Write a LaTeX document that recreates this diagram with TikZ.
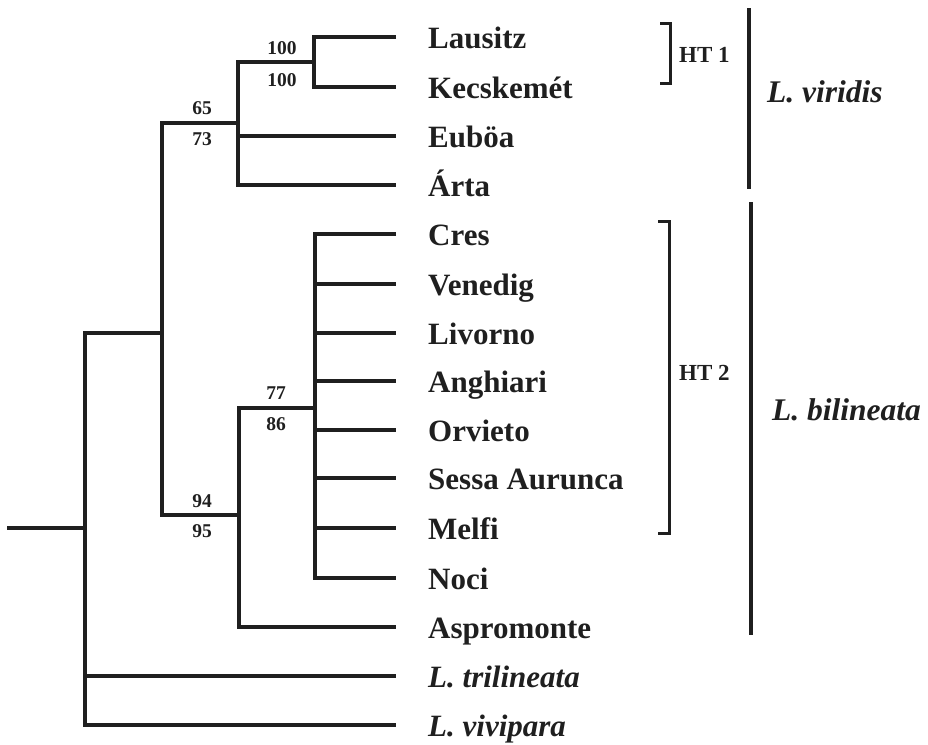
\documentclass[tikz,border=0pt]{standalone}
\usepackage{fontspec}
\setmainfont{Liberation Serif}
\begin{document}
\begin{tikzpicture}[x=1pt,y=-1pt,
  branch/.style={line width=3.2pt, line join=miter, black!88},
  bar/.style={line width=4.6pt, black!88},
  brk/.style={line width=3pt, line join=miter, black!88},
  taxon/.style={anchor=base west, inner sep=0pt, font=\fontsize{31}{36}\selectfont\bfseries, text=black!88},
  taxonit/.style={taxon, font=\fontsize{31}{36}\selectfont\bfseries\itshape},
  num/.style={inner sep=0pt, font=\fontsize{19.5}{22}\selectfont\bfseries, text=black!88},
  htlab/.style={anchor=west, inner sep=0pt, font=\fontsize{23}{26}\selectfont\bfseries, text=black!88},
  grp/.style={anchor=west, inner sep=0pt, font=\fontsize{31.5}{36}\selectfont\bfseries\itshape, text=black!88}]
\useasboundingbox (0,0) rectangle (928,744);
% internal nodes
\coordinate (root) at (7,528);
\coordinate (R) at (85,528);
\coordinate (A) at (162,333);
\coordinate (V) at (238,123);
\coordinate (H) at (314,62);
\coordinate (B) at (239,515);
\coordinate (C) at (315,408);
% tips
\foreach \i/\y in {1/37,2/87,3/136,4/185,5/234,6/284,7/333,8/381,9/430,10/478,11/528,12/578,13/627,14/676,15/725}
  \coordinate (t\i) at (396,\y);
% branches
\draw[branch] (root) -- (R);
\draw[branch] (A) -| (R) |- (t15);
\draw[branch] (R |- t14) -- (t14);
\draw[branch] (V) -| (A) |- (B);
\draw[branch] (H) -| (V) |- (t4);
\draw[branch] (V |- t3) -- (t3);
\draw[branch] (t1) -| (H) |- (t2);
\draw[branch] (C) -| (B) |- (t13);
\draw[branch] (t5) -| (C) |- (t12);
\foreach \i in {6,...,11} \draw[branch] (C |- t\i) -- (t\i);
% taxon labels
\node[taxon] (l1) at ([xshift=32pt,yshift=-11pt]t1) {Lausitz};
\node[taxon] (l2) at ([xshift=32pt,yshift=-11pt]t2) {Kecskemét};
\node[taxon] (l3) at ([xshift=32pt,yshift=-11pt]t3) {Euböa};
\node[taxon] (l4) at ([xshift=32pt,yshift=-11pt]t4) {Árta};
\node[taxon] (l5) at ([xshift=32pt,yshift=-11pt]t5) {Cres};
\node[taxon] (l6) at ([xshift=32pt,yshift=-11pt]t6) {Venedig};
\node[taxon] (l7) at ([xshift=32pt,yshift=-11pt]t7) {Livorno};
\node[taxon] (l8) at ([xshift=32pt,yshift=-11pt]t8) {Anghiari};
\node[taxon] (l9) at ([xshift=32pt,yshift=-11pt]t9) {Orvieto};
\node[taxon] (l10) at ([xshift=32pt,yshift=-11pt]t10) {Sessa Aurunca};
\node[taxon] (l11) at ([xshift=32pt,yshift=-11pt]t11) {Melfi};
\node[taxon] (l12) at ([xshift=32pt,yshift=-11pt]t12) {Noci};
\node[taxon] (l13) at ([xshift=32pt,yshift=-11pt]t13) {Aspromonte};
\node[taxonit] (l14) at ([xshift=32pt,yshift=-11pt]t14) {L. trilineata};
\node[taxonit] (l15) at ([xshift=32pt,yshift=-11pt]t15) {L. vivipara};
% support values
\node[num] (s1a) at (282,48) {100};
\node[num] (s1b) at (282,80) {100};
\node[num] (s2a) at (202,108) {65};
\node[num] (s2b) at (202,139) {73};
\node[num] (s3a) at (276,393) {77};
\node[num] (s3b) at (276,424) {86};
\node[num] (s4a) at (202,501) {94};
\node[num] (s4b) at (202,531) {95};
% haplotype brackets
\coordinate (h1t) at (660,23);
\coordinate (h1b) at (660,83);
\draw[brk] (h1t) -- (670,23) -- (670,83) -- (h1b);
\node[htlab] (ht1) at (679,55) {HT 1};
\coordinate (h2t) at (658,221);
\coordinate (h2b) at (658,533);
\draw[brk] (h2t) -- (669,221) -- (669,533) -- (h2b);
\node[htlab] (ht2) at (679,373) {HT 2};
% species bars
\coordinate (vt) at (749,8);
\coordinate (vb) at (749,189);
\draw[bar] (vt) -- (vb);
\node[grp] (sv) at (767,92) {L. viridis};
\coordinate (bt) at (751,202);
\coordinate (bb) at (751,635);
\draw[bar] (bt) -- (bb);
\node[grp] (sb) at (772,410) {L. bilineata};
\end{tikzpicture}
\end{document}
